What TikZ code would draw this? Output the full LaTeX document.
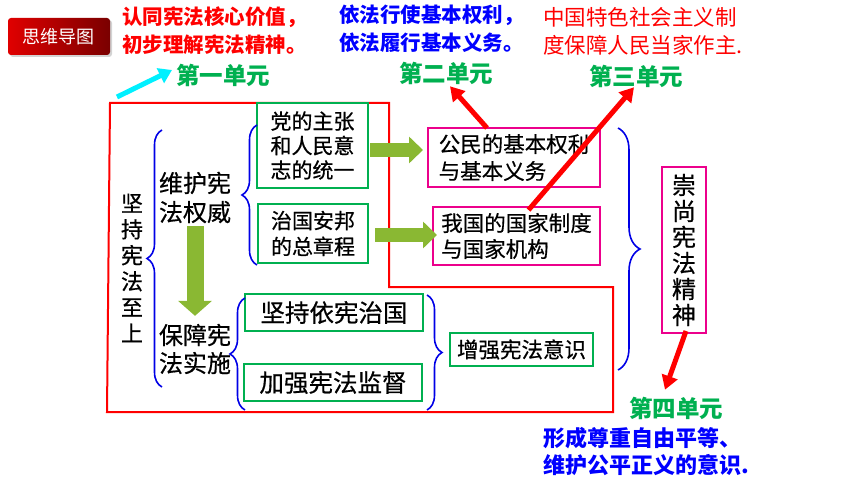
\documentclass[tikz,border=0pt]{standalone}
\usepackage{fontspec}
\setmainfont{Noto Sans CJK SC}
\newfontfamily\medfont{Noto Sans CJK SC}[FakeBold=0.6]
\usetikzlibrary{arrows.meta,decorations.pathreplacing,shadows}

\definecolor{boxgreen}{HTML}{00B050}
\definecolor{unitgreen}{HTML}{00B050}
\definecolor{olive}{HTML}{8AB833}
\definecolor{bracebl}{HTML}{0000E6}
\definecolor{btnred}{HTML}{E00000}
\definecolor{btndark}{HTML}{7A0000}
\definecolor{lightcyan}{HTML}{00F0FF}

\begin{document}
\begin{tikzpicture}[x=1pt,y=-1pt]
\tikzstyle{every node}=[inner sep=0pt, outer sep=0pt]
\tikzstyle{gbox}=[draw=boxgreen, line width=2pt, align=left]
\tikzstyle{mbox}=[draw=magenta, line width=2pt, align=left]
\tikzstyle{unit}=[text=unitgreen, font=\fontsize{23.5pt}{26pt}\selectfont\bfseries]
\tikzstyle{note}=[align=left, anchor=west, font=\fontsize{20.5pt}{28pt}\selectfont\bfseries]
\tikzstyle{curly}=[draw=bracebl, line width=1.6pt, decorate, decoration={brace, amplitude=15pt}]
\tikzstyle{blockarrow}=[draw=olive, line width=14pt, -{Triangle[length=14pt, width=26pt]}]
\tikzstyle{redarrow}=[draw=red, line width=5pt, -{Triangle[length=14pt, width=16pt]}]
\useasboundingbox (0,0) rectangle (860,484);
% title button and notes
\node (btn) [rounded corners=3pt, left color=btnred, right color=btndark, drop shadow={opacity=0.35, shadow xshift=2pt, shadow yshift=-2pt}, minimum width=102pt, minimum height=37pt, text=white, font=\fontsize{18pt}{18pt}\selectfont] at (59,36.5) {思维导图};
\node (note1) [note, text=red] at (122,31) {认同宪法核心价值，\\初步理解宪法精神。};
\node (note2) [note, text=blue] at (339,29) {依法行使基本权利，\\依法履行基本义务。};
\node (note3) [note, text=red, font=\fontsize{21.5pt}{28pt}\selectfont] at (543,31) {中国特色社会主义制\\度保障人民当家作主.};
\node (note4) [note, text=blue, font=\fontsize{22pt}{27pt}\selectfont\bfseries] at (543,452) {形成尊重自由平等、\\维护公平正义的意识.};
\node (unit1) [unit] at (223,75) {第一单元};
\node (unit2) [unit] at (446,73) {第二单元};
\node (unit3) [unit] at (636,76) {第三单元};
\node (unit4) [unit] at (676,408) {第四单元};
% main map
\draw[red, line width=2pt] (110,103) -- (389,103) -- (389,287) -- (613,287) -- (613,412) -- (107,412) -- cycle;
\node (zhishang) [align=center, font=\medfont\fontsize{22pt}{26pt}\selectfont] at (132,268) {坚\\持\\宪\\法\\至\\上};
\node (weihu) [align=left, font=\medfont\fontsize{24pt}{29pt}\selectfont] at (195,197.5) {维护宪\\法权威};
\node (baozhang) [align=left, font=\medfont\fontsize{24pt}{28pt}\selectfont] at (195,349) {保障宪\\法实施};
\node (dang) [gbox, minimum width=111pt, minimum height=85pt, font=\medfont\fontsize{21pt}{24.5pt}\selectfont] at (312.5,145.5) {党的主张\\和人民意\\志的统一};
\node (zhiguo) [gbox, minimum width=110pt, minimum height=59pt, font=\medfont\fontsize{21pt}{26pt}\selectfont] at (313,233.5) {治国安邦\\的总章程};
\node (yixian) [gbox, minimum width=178pt, minimum height=37pt, font=\medfont\fontsize{24.5pt}{24pt}\selectfont] at (334,312.5) {坚持依宪治国};
\node (jiandu) [gbox, minimum width=178pt, minimum height=37pt, font=\medfont\fontsize{24.5pt}{24pt}\selectfont] at (333,382.5) {加强宪法监督};
\node (yishi) [gbox, minimum width=143pt, minimum height=33pt, font=\medfont\fontsize{21.5pt}{21pt}\selectfont] at (521.5,349.5) {增强宪法意识};
\node (quanli) [mbox, minimum width=172pt, minimum height=59pt, font=\medfont\fontsize{21.5pt}{27pt}\selectfont] at (514,157.5) {公民的基本权利\\与基本义务};
\node (guojia) [mbox, minimum width=167pt, minimum height=58pt, font=\medfont\fontsize{21.5pt}{26pt}\selectfont] at (516.5,236) {我国的国家制度\\与国家机构};
\node (chongshang) [mbox, minimum width=44pt, minimum height=166pt, align=center, font=\medfont\fontsize{24pt}{26pt}\selectfont] at (684,250) {崇\\尚\\宪\\法\\精\\神};
% braces
\draw[curly] (162,387) -- (162,130);
\draw[curly] (257,265) -- (257,125);
\draw[curly] (245,410) -- (245,298);
\draw[curly] (427,295) -- (427,410);
\draw[curly, decoration={brace, amplitude=22pt}] (618,128) -- (618,370);
% arrows
\draw[draw=olive, line width=17pt, -{Triangle[length=15pt, width=33pt]}] ([yshift=-3pt]weihu.south) -- ([yshift=8pt]baozhang.north);
\draw[blockarrow] ([xshift=2pt, yshift=-4.5pt]dang.east) -- ([xshift=-5pt, yshift=-4.5pt]dang.east -| quanli.west);
\draw[blockarrow] ([xshift=7pt, yshift=-1.5pt]zhiguo.east) -- ([xshift=4pt, yshift=-1.5pt]zhiguo.east -| guojia.west);
\draw[lightcyan, line width=5pt, -{Triangle[length=13pt, width=16pt]}] (117,97) -- ([xshift=-4pt, yshift=5pt]unit1.west);
\draw[redarrow] ([xshift=-27pt]quanli.north) -- ([xshift=4pt, yshift=-2pt]unit2.south);
\draw[redarrow] ([xshift=12pt, yshift=-3pt]guojia.north) -- ([xshift=-2pt, yshift=0pt]unit3.south);
\draw[redarrow] ([xshift=2pt, yshift=2pt]chongshang.south) -- ([xshift=-11pt, yshift=7pt]unit4.north);
\end{tikzpicture}
\end{document}
